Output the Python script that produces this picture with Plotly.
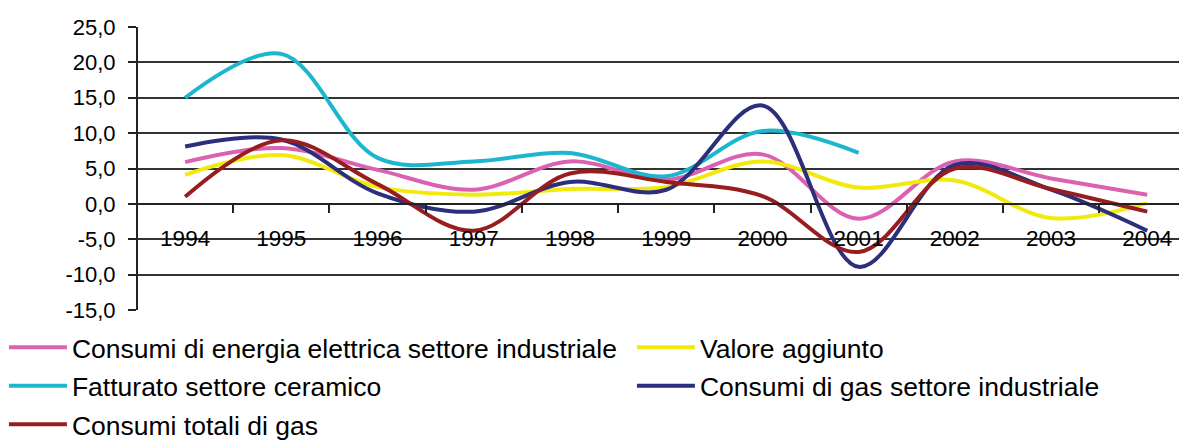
import plotly.graph_objects as go

years = ["1994", "1995", "1996", "1997", "1998", "1999", "2000", "2001", "2002", "2003", "2004"]

energia_elettrica = [5.9, 7.9, 4.8, 2.0, 6.0, 3.4, 7.0, -2.1, 6.0, 3.6, 1.3]
valore_aggiunto = [4.1, 6.9, 2.4, 1.3, 2.1, 2.4, 6.0, 2.3, 3.3, -2.0, 0.1]
fatturato_ceramico = [15.0, 21.2, 6.5, 6.0, 7.2, 3.9, 10.3, 7.2, None, None, None]
gas_industriale = [8.1, 9.1, 1.5, -1.1, 3.1, 2.0, 13.9, -8.9, 5.5, 2.0, -3.8]
gas_totali = [1.0, 9.0, 2.8, -3.8, 4.3, 3.1, 1.1, -6.8, 5.0, 2.1, -1.1]

y_tick_vals = [-15, -10, -5, 0, 5, 10, 15, 20, 25]
y_tick_text = ["-15,0", "-10,0", "-5,0", "0,0", "5,0", "10,0", "15,0", "20,0", "25,0"]

# (name, values, colour, legend column)
series = [
    ("Consumi di energia elettrica settore industriale", energia_elettrica, "#DB62B0", "legend"),
    ("Valore aggiunto", valore_aggiunto, "#F2EA0C", "legend2"),
    ("Fatturato settore ceramico", fatturato_ceramico, "#1CB6CF", "legend"),
    ("Consumi di gas settore industriale", gas_industriale, "#2C2F7C", "legend2"),
    ("Consumi totali di gas", gas_totali, "#981D1E", "legend"),
]

FONT = "Liberation Sans, Arial, sans-serif"

fig = go.Figure()
for name, vals, color, leg in series:
    fig.add_trace(go.Scatter(
        x=years, y=vals, name=name, mode="lines",
        legend=leg, legendgroup=name,
        line=dict(color=color, width=4, shape="spline", smoothing=1.0),
        connectgaps=False,
    ))

legend_common = dict(
    orientation="v", xanchor="left", yanchor="top", y=-0.048,
    font=dict(family=FONT, size=26.5, color="black"),
    itemwidth=58, tracegroupgap=1, bgcolor="rgba(0,0,0,0)",
    traceorder="grouped",
)

fig.update_layout(
    width=1179, height=441,
    margin=dict(l=138, r=0, t=27, b=131, autoexpand=False),
    paper_bgcolor="white", plot_bgcolor="white",
    font=dict(family=FONT, color="black", size=22),
    showlegend=True,
    legend=dict(x=-0.1288, **legend_common),
    legend2=dict(x=0.4745, **legend_common),
)

fig.update_xaxes(
    type="category", range=[-0.49, 10.33],
    anchor="free", position=0.375,
    showline=True, linecolor="#222", linewidth=2,
    ticks="outside", tickson="boundaries", ticklen=8, tickwidth=2, tickcolor="#222",
    ticklabelstandoff=14,
    showgrid=False, zeroline=False,
    tickfont=dict(family=FONT, size=22.5, color="black"),
)
fig.update_yaxes(
    range=[-15, 25], tickvals=y_tick_vals, ticktext=y_tick_text,
    showline=True, linecolor="#222", linewidth=2,
    ticks="outside", ticklen=8, tickwidth=2, tickcolor="#222",
    ticklabelstandoff=8,
    showgrid=True, gridcolor="#333", gridwidth=2,
    zeroline=False,
    tickfont=dict(family=FONT, size=22, color="black"),
)

fig.write_html(
    "out.html",
    config={"displayModeBar": False},
    post_script="document.body.style.margin='0';document.body.style.overflow='hidden';",
)
